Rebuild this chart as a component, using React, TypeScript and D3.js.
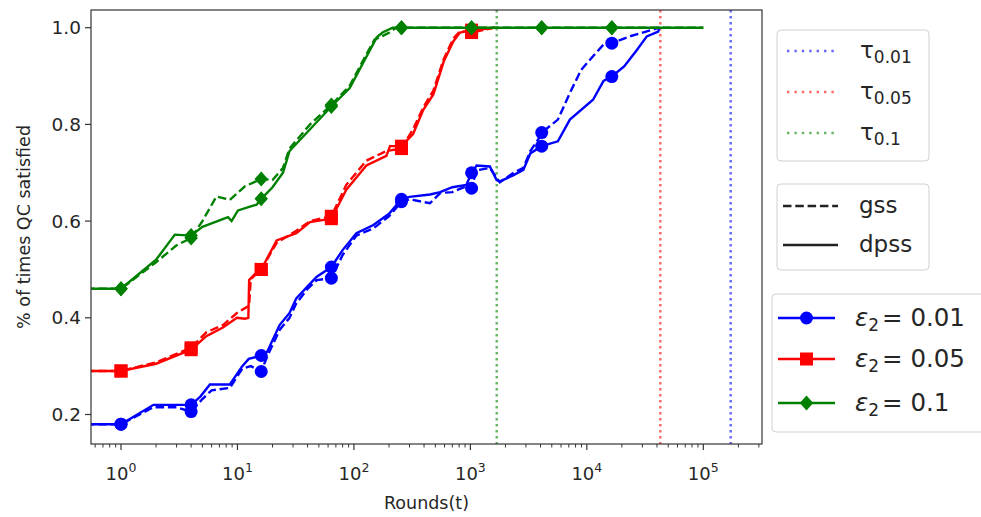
import React, { useEffect, useRef } from 'react';
import * as d3 from 'd3';

// rounds at which markers are shown (powers of 4)
const markerRounds = [1, 4, 16, 64, 256, 1024, 4096, 16384];
const yTicks = [0.2, 0.4, 0.6, 0.8, 1.0];
const xTickExps = [0, 1, 2, 3, 4, 5];

const tauLabels = ['0.01', '0.05', '0.1'];
const tauRounds = [171800, 42760, 1683];
const epsLabels = ['0.01', '0.05', '0.1'];
const seriesColors = ['#0000ff', '#ff0000', '#008000'];
const markerKinds = ['circle', 'square', 'diamond'];

// [round, fraction satisfied]
const blueGss: [number, number][] = [
  [0.5, 0.18], [1, 0.18], [1.9, 0.215], [3, 0.215], [4, 0.206], [5, 0.232], [6, 0.25], [8.6, 0.255],
  [11, 0.295], [13, 0.3], [16, 0.289], [18, 0.32], [23, 0.375], [28, 0.4], [32, 0.43], [40, 0.46],
  [48, 0.478], [64, 0.482], [80, 0.53], [105, 0.57], [147, 0.585], [200, 0.61], [256, 0.64],
  [300, 0.645], [450, 0.637], [550, 0.658], [700, 0.66], [925, 0.672], [1024, 0.668], [1130, 0.705],
  [1470, 0.71], [1680, 0.69], [1790, 0.68], [2350, 0.7], [2850, 0.71], [3270, 0.745], [3980, 0.775],
  [4096, 0.783], [5640, 0.81], [7150, 0.865], [8950, 0.913], [11300, 0.941], [13900, 0.965],
  [16384, 0.968], [23300, 0.982], [36700, 0.996], [42000, 1.0],
];
const blueDpss: [number, number][] = [
  [0.5, 0.18], [1, 0.18], [1.9, 0.22], [2.8, 0.22], [4, 0.22], [4.8, 0.237], [5.8, 0.262], [8.6, 0.262],
  [11, 0.3], [12.5, 0.315], [16, 0.322], [18, 0.33], [23, 0.385], [28, 0.41], [32, 0.44], [40, 0.465],
  [48, 0.485], [64, 0.505], [80, 0.54], [105, 0.575], [147, 0.592], [200, 0.615], [256, 0.645],
  [300, 0.65], [450, 0.655], [550, 0.66], [700, 0.67], [925, 0.675], [1024, 0.7], [1130, 0.715],
  [1470, 0.713], [1680, 0.685], [1790, 0.682], [2350, 0.695], [2850, 0.706], [3270, 0.74],
  [4096, 0.755], [5640, 0.765], [7150, 0.81], [11300, 0.851], [13900, 0.89], [16384, 0.899],
  [20900, 0.92], [26900, 0.954], [32700, 0.982], [41000, 0.992], [42000, 1.0],
];
const redGss: [number, number][] = [
  [0.5, 0.29], [1, 0.29], [2, 0.308], [4, 0.338], [5.4, 0.37], [7.5, 0.385], [9.9, 0.41], [11.6, 0.42],
  [12.6, 0.425], [13, 0.48], [16, 0.5], [21.7, 0.555], [32, 0.58], [42, 0.6], [64, 0.61], [86, 0.675],
  [128, 0.725], [190, 0.745], [256, 0.75], [322, 0.79], [394, 0.835], [481, 0.87], [590, 0.935],
  [715, 0.978], [815, 0.993], [1024, 0.99], [1470, 0.998], [1600, 1.0],
];
const redDpss: [number, number][] = [
  [0.5, 0.29], [1, 0.29], [2, 0.305], [4, 0.334], [5.4, 0.362], [7.5, 0.38], [9.9, 0.4], [11.6, 0.398],
  [12.4, 0.4], [12.6, 0.478], [14, 0.49], [16, 0.5], [21.7, 0.56], [32, 0.575], [42, 0.598], [64, 0.605],
  [86, 0.665], [128, 0.715], [190, 0.735], [204, 0.755], [256, 0.755], [322, 0.78], [394, 0.83],
  [481, 0.862], [590, 0.93], [715, 0.972], [815, 0.99], [1024, 0.995], [1470, 0.998], [1600, 1.0],
];
const greenGss: [number, number][] = [
  [0.5, 0.46], [1, 0.46], [2, 0.515], [3, 0.55], [4, 0.565], [5, 0.6], [6.6, 0.651], [8.6, 0.644],
  [11.6, 0.672], [16, 0.687], [20, 0.685], [24.6, 0.71], [28, 0.75], [42, 0.8], [64, 0.84], [92, 0.88],
  [128, 0.945], [150, 0.975], [202, 0.99], [230, 1.0], [256, 1.0], [1024, 1.0], [4096, 1.0],
  [16384, 1.0], [100000, 1.0],
];
const greenDpss: [number, number][] = [
  [0.5, 0.46], [1, 0.46], [2, 0.52], [2.9, 0.572], [4, 0.57], [5, 0.588], [8.3, 0.608], [8.9, 0.6],
  [10.1, 0.622], [14.6, 0.634], [16, 0.646], [20, 0.67], [24.6, 0.7], [28, 0.745], [42, 0.79],
  [64, 0.837], [92, 0.875], [128, 0.94], [157, 0.98], [176, 0.99], [215, 1.0], [256, 1.0], [1024, 1.0],
  [4096, 1.0], [16384, 1.0], [100000, 1.0],
];

const gssSeries = [blueGss, redGss, greenGss];
const dpssSeries = [blueDpss, redDpss, greenDpss];

const FONT = 'DejaVu Sans, sans-serif';
const TXT = '#262626';

function marker(g: any, kind: string, x: number, y: number, color: string, s = 1) {
  if (kind === 'circle') {
    g.append('circle').attr('cx', x).attr('cy', y).attr('r', 6.5 * s).attr('fill', color);
  } else if (kind === 'square') {
    g.append('rect').attr('x', x - 6.5 * s).attr('y', y - 6.5 * s)
      .attr('width', 13 * s).attr('height', 13 * s).attr('fill', color);
  } else {
    const r = 7.5 * s;
    g.append('path').attr('d', `M${x},${y - r}L${x + r * 0.9},${y}L${x},${y + r}L${x - r * 0.9},${y}Z`)
      .attr('fill', color);
  }
}

export default function App() {
  const ref = useRef<SVGSVGElement>(null);

  useEffect(() => {
    const svg = d3.select(ref.current);
    svg.selectAll('*').remove();

    const left = 91, right = 762, top = 10, bottom = 444;

    const xScale = d3.scaleLog().domain([10 ** -0.2576, 10 ** 5.504]).range([left, right]);
    const yScale = d3.scaleLinear().domain([0.139, 1.0366]).range([bottom, top]);

    svg.append('defs').append('clipPath').attr('id', 'plotclip')
      .append('rect').attr('x', left).attr('y', top).attr('width', right - left).attr('height', bottom - top);

    const plot = svg.append('g').attr('clip-path', 'url(#plotclip)');

    // threshold lines
    tauRounds.forEach((t, i) => {
      plot.append('line')
        .attr('x1', xScale(t)).attr('x2', xScale(t))
        .attr('y1', top).attr('y2', bottom)
        .attr('stroke', seriesColors[i]).attr('stroke-opacity', 0.6)
        .attr('stroke-width', 2.4).attr('stroke-dasharray', '2.4,3.6');
    });

    const line = d3.line<[number, number]>()
      .x(d => xScale(d[0]))
      .y(d => yScale(d[1]));

    [0, 1, 2].forEach(i => {
      [gssSeries[i], dpssSeries[i]].forEach((data, j) => {
        plot.append('path')
          .attr('d', line(data))
          .attr('fill', 'none')
          .attr('stroke', seriesColors[i])
          .attr('stroke-width', 2.4)
          .attr('stroke-dasharray', j === 0 ? '8.5,3.8' : null);
        data.filter(d => markerRounds.includes(d[0])).forEach(d => {
          marker(plot, markerKinds[i], xScale(d[0]), yScale(d[1]), seriesColors[i]);
        });
      });
    });

    // frame
    svg.append('rect').attr('x', left).attr('y', top)
      .attr('width', right - left).attr('height', bottom - top)
      .attr('fill', 'none').attr('stroke', '#333').attr('stroke-width', 1.2);

    // y axis
    yTicks.forEach(v => {
      const y = yScale(v);
      svg.append('line').attr('x1', left - 6).attr('x2', left).attr('y1', y).attr('y2', y)
        .attr('stroke', '#333').attr('stroke-width', 1.2);
      svg.append('text').attr('x', left - 10).attr('y', y + 6.5)
        .attr('text-anchor', 'end').attr('font-family', FONT).attr('font-size', 18.5)
        .attr('fill', TXT).text(v.toFixed(1));
    });

    // x axis
    const [d0, d1] = xScale.domain();
    for (let k = -1; k <= 5; k++) {
      for (let m = 2; m <= 9; m++) {
        const t = m * 10 ** k;
        if (t < d0 || t > d1) continue;
        svg.append('line').attr('x1', xScale(t)).attr('x2', xScale(t))
          .attr('y1', bottom).attr('y2', bottom + 3.5)
          .attr('stroke', '#333').attr('stroke-width', 1);
      }
    }
    xTickExps.forEach(e => {
      const x = xScale(10 ** e);
      svg.append('line').attr('x1', x).attr('x2', x).attr('y1', bottom).attr('y2', bottom + 6)
        .attr('stroke', '#333').attr('stroke-width', 1.2);
      const t = svg.append('text').attr('x', x).attr('y', 480)
        .attr('text-anchor', 'middle').attr('font-family', FONT).attr('font-size', 18)
        .attr('fill', TXT);
      t.append('tspan').text('10');
      t.append('tspan').attr('dy', -8).attr('font-size', 12.5).text(String(e));
    });

    svg.append('text').attr('x', (left + right) / 2).attr('y', 509)
      .attr('text-anchor', 'middle').attr('font-family', FONT).attr('font-size', 17.5)
      .attr('fill', TXT).text('Rounds(t)');

    svg.append('text').attr('transform', `translate(30,${(top + bottom) / 2}) rotate(-90)`)
      .attr('text-anchor', 'middle').attr('font-family', FONT).attr('font-size', 17.5)
      .attr('fill', TXT).text('% of times QC satisfied');

    // legends
    const box = (x: number, y: number, w: number, h: number) =>
      svg.append('rect').attr('x', x).attr('y', y).attr('width', w).attr('height', h)
        .attr('rx', 4).attr('fill', '#fff').attr('fill-opacity', 0.8)
        .attr('stroke', '#d0d0d0').attr('stroke-width', 1);

    box(777, 30, 152, 131);
    const tauY = [51, 92, 133];
    tauLabels.forEach((lab, i) => {
      svg.append('line').attr('x1', 787).attr('x2', 838).attr('y1', tauY[i]).attr('y2', tauY[i])
        .attr('stroke', seriesColors[i]).attr('stroke-opacity', 0.6)
        .attr('stroke-width', 2.4).attr('stroke-dasharray', '2.4,5');
      const t = svg.append('text').attr('x', 860).attr('y', tauY[i] + 7)
        .attr('font-family', FONT).attr('font-size', 23).attr('fill', TXT);
      t.append('tspan').text('τ');
      t.append('tspan').attr('dy', 5).attr('font-size', 17).text(lab);
    });

    box(777, 184, 152, 86);
    const styleNames = ['gss', 'dpss'];
    const styleY = [206, 245];
    styleNames.forEach((name, j) => {
      svg.append('line').attr('x1', 783).attr('x2', 838).attr('y1', styleY[j]).attr('y2', styleY[j])
        .attr('stroke', '#222').attr('stroke-width', 2.4)
        .attr('stroke-dasharray', j === 0 ? '8.5,3.8' : null);
      svg.append('text').attr('x', 859).attr('y', styleY[j] + 7)
        .attr('font-family', FONT).attr('font-size', 23).attr('fill', TXT).text(name);
    });

    box(772, 294, 220, 138);
    const epsY = [318, 359, 403];
    epsLabels.forEach((lab, i) => {
      svg.append('line').attr('x1', 778).attr('x2', 835).attr('y1', epsY[i]).attr('y2', epsY[i])
        .attr('stroke', seriesColors[i]).attr('stroke-width', 2.4);
      marker(svg, markerKinds[i], 806.5, epsY[i], seriesColors[i]);
      const t = svg.append('text').attr('x', 855).attr('y', epsY[i] + 8)
        .attr('font-family', FONT).attr('font-size', 24.5).attr('fill', TXT);
      t.append('tspan').attr('font-style', 'italic').text('ε');
      t.append('tspan').attr('dy', 5).attr('font-size', 17).text('2');
      t.append('tspan').attr('dy', -5).attr('dx', 3).text('= ' + lab);
    });
  }, []);

  return (
    <svg ref={ref} width={981} height={517}
      style={{ position: 'absolute', left: 0, top: 0, background: '#fff' }} />
  );
}
